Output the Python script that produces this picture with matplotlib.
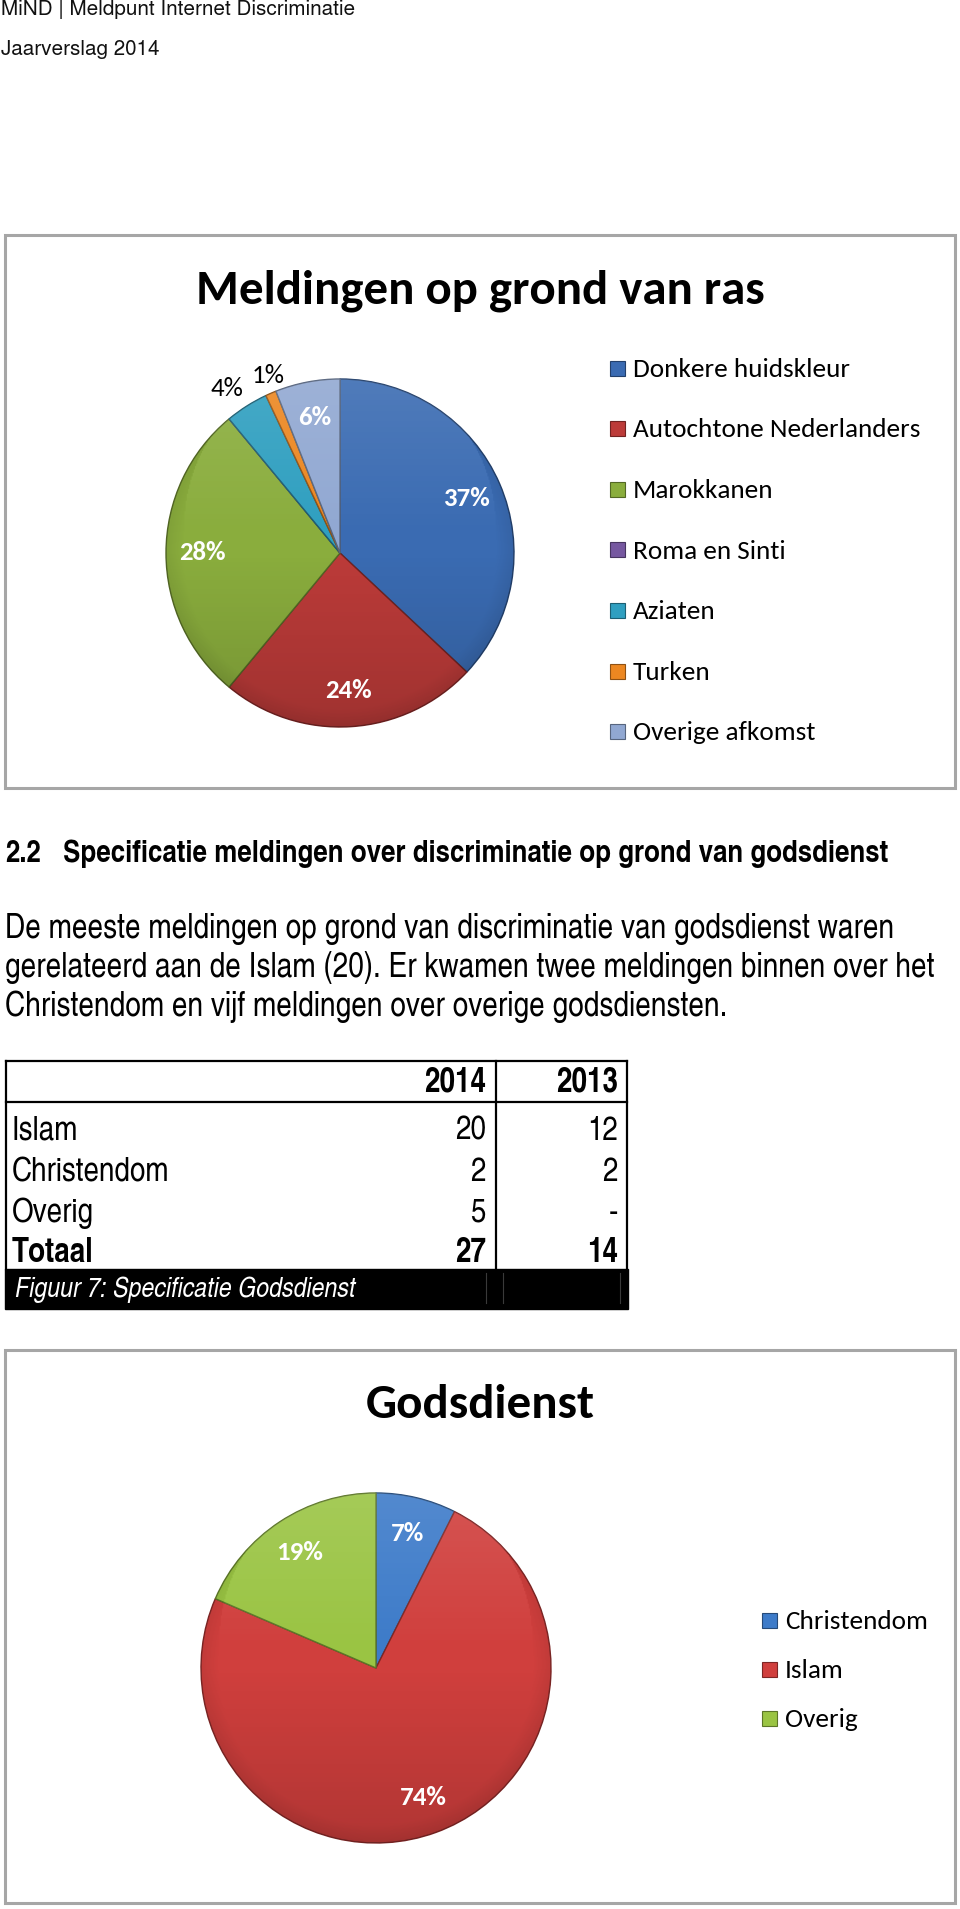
import matplotlib
matplotlib.use('Agg')
import matplotlib.pyplot as plt
from matplotlib import font_manager
from matplotlib.patches import Rectangle, Circle
from matplotlib.colors import to_rgb
import numpy as np

# ---------------- data ----------------
header_lines = ['MiND | Meldpunt Internet Discriminatie', 'Jaarverslag 2014']

ras_title = 'Meldingen op grond van ras'
ras_categories = ['Donkere huidskleur', 'Autochtone Nederlanders', 'Marokkanen',
                  'Roma en Sinti', 'Aziaten', 'Turken', 'Overige afkomst']
ras_values = [37, 24, 28, 0, 4, 1, 6]
ras_labels = ['37%', '24%', '28%', '', '4%', '1%', '6%']
ras_colors = ['#3A6BB2', '#BC3B39', '#8AAD3D', '#7658A0', '#2F9FC0', '#EC8721', '#91A8D2']

heading_num = '2.2'
heading_text = 'Specificatie meldingen over discriminatie op grond van godsdienst'
body_lines = ['De meeste meldingen op grond van discriminatie van godsdienst waren',
              'gerelateerd aan de Islam (20). Er kwamen twee meldingen binnen over het',
              'Christendom en vijf meldingen over overige godsdiensten.']

table_columns = ['2014', '2013']
table_rows = ['Islam', 'Christendom', 'Overig', 'Totaal']
table_2014 = ['20', '2', '5', '27']
table_2013 = ['12', '2', '-', '14']
caption = 'Figuur 7: Specificatie Godsdienst'

god_title = 'Godsdienst'
god_categories = ['Christendom', 'Islam', 'Overig']
god_values = [2, 20, 5]
god_labels = ['7%', '74%', '19%']
god_colors = ['#3D7BC9', '#D03F3D', '#9AC443']

# ---------------- fonts ----------------
avail = {f.name for f in font_manager.fontManager.ttflist}


def pick(prefs, default):
    for p in prefs:
        if p in avail:
            return p
    return default


CAL = pick(['Carlito', 'Lato'], 'DejaVu Sans')
NARROW = pick(['TeX Gyre Heros Cn', 'Roboto Condensed', 'Liberation Sans'], 'DejaVu Sans')
UNI = pick(['TeX Gyre Heros', 'Liberation Sans'], 'DejaVu Sans')

W, H = 960, 1909
fig = plt.figure(figsize=(W / 100, H / 100), dpi=100)
fig.patch.set_facecolor('white')
ov = fig.add_axes([0, 0, 1, 1])
ov.set_xlim(0, W)
ov.set_ylim(H, 0)
ov.axis('off')
renderer = fig.canvas.get_renderer()


def fit(t, width):
    w = t.get_window_extent(renderer).width
    t.set_fontsize(t.get_fontsize() * width / w)
    return t.get_fontsize()


def darker(c, f=0.7):
    r, g, b = to_rgb(c)
    return (r * f, g * f, b * f)


# ---------------- header ----------------
t = ov.text(1, 15, header_lines[0], family=UNI, fontsize=12, color='#111111', va='baseline')
hs = fit(t, 354)
ov.text(1, 55, header_lines[1], family=UNI, fontsize=hs, color='#111111', va='baseline')

# ---------------- chart boxes ----------------
for (x0, y0, x1, y1) in [(5, 235, 955, 788), (5, 1350, 955, 1903)]:
    ov.add_patch(Rectangle((x0, y0), x1 - x0, y1 - y0, fill=False,
                           edgecolor='#A6A6A6', linewidth=2.2))

tt = ov.text(0, 0, '37%', family=CAL, fontsize=17, fontweight='bold')
pct_size = fit(tt, 47)
tt.remove()


def draw_pie(cx, cy, r, values, colors, labels, in_r, small):
    pad = 1.25
    ax = fig.add_axes([(cx - r * pad) / W, 1 - (cy + r * pad) / H, 2 * r * pad / W, 2 * r * pad / H])
    wedges, _ = ax.pie(values, colors=colors, startangle=90, counterclock=False, radius=1,
                       wedgeprops=dict(linewidth=1.0))
    for w, c in zip(wedges, colors):
        w.set_edgecolor(darker(c, 0.6))
    yy, xx = np.mgrid[1:-1:300j, -1:1:300j]
    rr = np.sqrt(xx ** 2 + yy ** 2)
    img = np.zeros((300, 300, 4))
    tpos = (yy + 1) / 2
    dark = np.clip((0.5 - tpos) * 0.3, 0, None) + np.clip((rr - 0.9) * 2.0, 0, None) * 0.35
    light = np.clip((tpos - 0.55) * 0.25, 0, None)
    img[..., :3] = np.where((light > dark)[..., None], 1.0, 0.0)
    img[..., 3] = np.maximum(light, dark)
    im = ax.imshow(img, extent=(-1, 1, -1, 1), zorder=3, interpolation='bilinear')
    im.set_clip_path(Circle((0, 0), 1, transform=ax.transData))
    for w, lab, v in zip(wedges, labels, values):
        if not lab:
            continue
        th = np.deg2rad((w.theta1 + w.theta2) / 2)
        c, s = np.cos(th), np.sin(th)
        if v <= small:
            ha = 'center' if abs(c) < 0.45 else ('right' if c < 0 else 'left')
            ax.text(1.04 * c, 1.04 * s, lab, ha=ha, va='bottom' if s > 0 else 'top',
                    family=CAL, fontsize=pct_size, color='black', zorder=5)
        else:
            ax.text(in_r * c, in_r * s, lab, ha='center', va='center',
                    family=CAL, fontsize=pct_size, fontweight='bold', color='white', zorder=5)
    ax.set_xlim(-pad, pad)
    ax.set_ylim(-pad, pad)
    ax.set_aspect('equal')
    ax.axis('off')
    return ax


def draw_legend(x, ys, cats, colors, size):
    for y, c, lab in zip(ys, colors, cats):
        ov.add_patch(Rectangle((x, y - 7.5), 15, 15, facecolor=c, edgecolor=darker(c, 0.6), linewidth=0.8))
        ov.text(x + 23, y + 0.33 * size * 100 / 72 * 0.98, lab, family=CAL, fontsize=size,
                color='black', va='baseline')


# ---------------- chart 1 ----------------
t = ov.text(480, 303, ras_title, family=CAL, fontsize=34, fontweight='bold', ha='center', va='baseline')
title_size = fit(t, 569)
draw_pie(340, 553, 174, ras_values, ras_colors, ras_labels, 0.79, 4)
tt = ov.text(633, 0, 'Autochtone Nederlanders', family=CAL, fontsize=19)
leg_size = fit(tt, 287)
tt.remove()
draw_legend(610, [368 + 60.6 * i for i in range(len(ras_categories))], ras_categories, ras_colors, leg_size)

# ---------------- heading and body ----------------
t = ov.text(63, 862, heading_text, family=NARROW, fontsize=16, fontweight='bold', va='baseline')
hd = fit(t, 825)
ov.text(5, 862, heading_num, family=NARROW, fontsize=hd, fontweight='bold', va='baseline')
t = ov.text(5, 938, body_lines[0], family=NARROW, fontsize=17, va='baseline')
bs = fit(t, 887)
for i, line in enumerate(body_lines[1:], start=1):
    ov.text(5, 938 + 39 * i, line, family=NARROW, fontsize=bs, va='baseline')

# ---------------- table ----------------
tl, tr, tdiv, ttop, thead, tbot, cbot = 6, 627, 496, 1061, 1102, 1269, 1309
lw = 1.6
ov.plot([tl, tr], [ttop, ttop], color='black', lw=lw)
ov.plot([tl, tr], [thead, thead], color='black', lw=lw)
ov.plot([tl, tl], [ttop, tbot], color='black', lw=lw)
ov.plot([tr, tr], [ttop, tbot], color='black', lw=lw)
ov.plot([tdiv, tdiv], [ttop, tbot], color='black', lw=lw)
ov.add_patch(Rectangle((tl - 1, tbot), tr - tl + 2, cbot - tbot, facecolor='black', edgecolor='black'))
for xv in (486, 503, 620):
    ov.plot([xv, xv], [tbot + 4, cbot - 6], color='#3a3a3a', lw=0.8)

t = ov.text(12, 0, 'Christendom', family=NARROW, fontsize=16)
ts = fit(t, 158)
t.remove()
col_right = [486, 618]
for cx, lab in zip(col_right, table_columns):
    ov.text(cx, 1092, lab, family=NARROW, fontsize=ts, fontweight='bold', ha='right', va='baseline')
row_y = [1140, 1181, 1222, 1262]
for i, (rl, a, b) in enumerate(zip(table_rows, table_2014, table_2013)):
    wt = 'bold' if rl == 'Totaal' else 'normal'
    ov.text(12, row_y[i], rl, family=NARROW, fontsize=ts, fontweight=wt, va='baseline')
    ov.text(col_right[0], row_y[i], a, family=NARROW, fontsize=ts, fontweight=wt, ha='right', va='baseline')
    ov.text(col_right[1], row_y[i], b, family=NARROW, fontsize=ts, fontweight=wt, ha='right', va='baseline')
t = ov.text(15, 1297, caption, family=NARROW, fontsize=14, style='italic', color='white', va='baseline')
fit(t, 340)

# ---------------- chart 2 ----------------
ov.text(480, 1418, god_title, family=CAL, fontsize=title_size, fontweight='bold', ha='center', va='baseline')
draw_pie(376, 1668, 175, god_values, god_colors, god_labels, 0.79, 0)
draw_legend(762, [1620 + 49 * i for i in range(len(god_categories))], god_categories, god_colors, leg_size)

fig.savefig('out.png', dpi=100, facecolor='white')
